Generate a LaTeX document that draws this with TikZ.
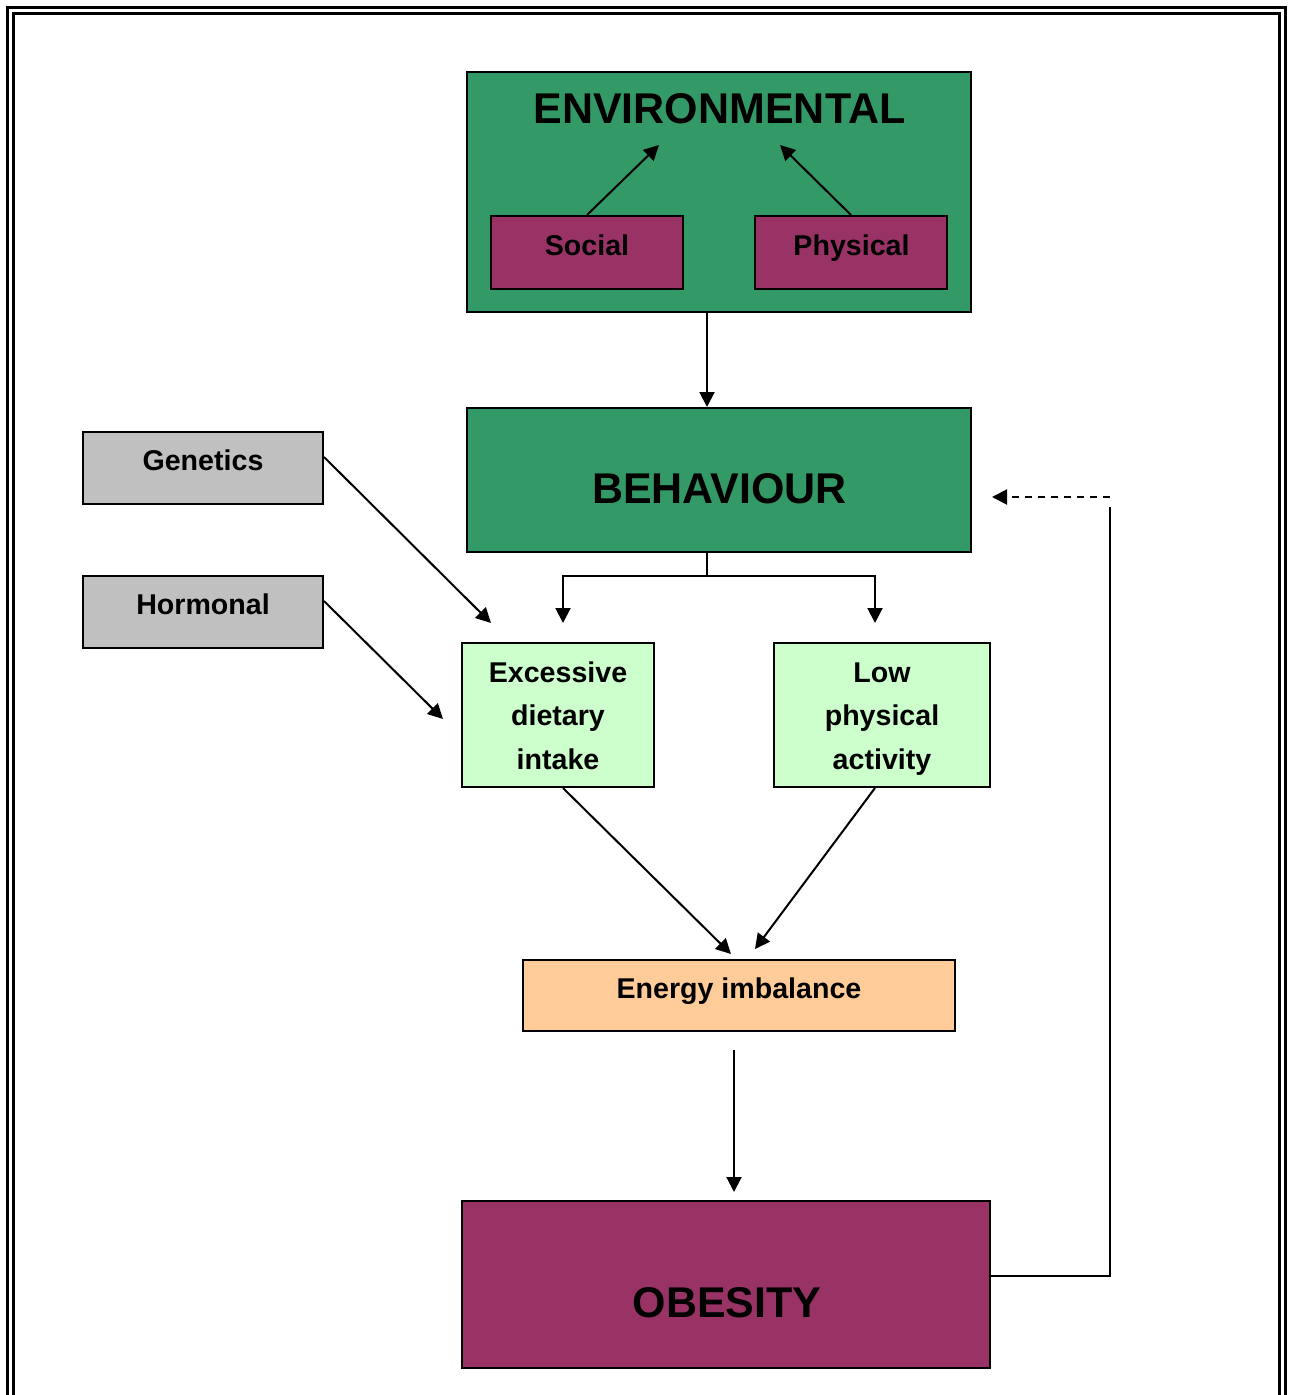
\documentclass[tikz,border=0pt]{standalone}
\usepackage{fontspec}
\setmainfont{Liberation Sans}
\usetikzlibrary{arrows.meta}
\definecolor{envgreen}{HTML}{339966}
\definecolor{plum}{HTML}{993366}
\definecolor{silver}{HTML}{C0C0C0}
\definecolor{mint}{HTML}{CCFFCC}
\definecolor{peach}{HTML}{FFCC99}
\tikzset{
  box/.style={draw,line width=2pt,inner sep=0pt,fill=#1},
  big/.style={font=\fontsize{43}{43}\selectfont\bfseries,inner sep=0pt,anchor=base},
  small/.style={font=\fontsize{28.6}{43.5}\selectfont\bfseries,inner sep=0pt,anchor=base,align=center},
  arr/.style={line width=2pt,-{Triangle[length=15pt,width=15pt]}}
}
\begin{document}
\begin{tikzpicture}[x=1pt,y=-1pt]
      \useasboundingbox(0,0)rectangle(1293,1395);
      \draw[line width=3pt](7.5,1400)--(7.5,7.5)--(1285.5,7.5)--(1285.5,1400);
      \draw[line width=2.5pt](13.5,1400)--(13.5,13.5)--(1279.5,13.5)--(1279.5,1400);
      \foreach \n/\x/\y/\w/\h/\c in{env/719/192/504/240/envgreen,social/587/252.5/192/73/plum,
        phys/851/252.5/192/73/plum,behav/719/480/504/144/envgreen,gen/203/468/240/72/silver,
        horm/203/612/240/72/silver,diet/558/715/192/144/mint,lowact/882/715/216/144/mint,
        energy/739/995.5/432/71/peach,obes/726/1284.5/528/167/plum}{
        \node[box=\c,minimum width=\w pt,minimum height=\h pt](\n)at(\x,\y){};
      }
      \foreach \n/\x/\y/\s/\t in{envt/719.5/123/big/ENVIRONMENTAL,behavt/719.5/503/big/BEHAVIOUR,
        obest/727/1317/big/OBESITY,socialt/587/255/small/Social,physt/851.5/255/small/Physical,
        gent/203/470/small/Genetics,hormt/203/614/small/Hormonal,energyt/739/998/small/Energy imbalance,
        diett/558/769/small/{Excessive\\dietary\\intake},lowactt/882/769/small/{Low\\physical\\activity}}{
        \node[\s](\n)at(\x,\y){\t};
      }
      \coordinate(s1)at(659,145);
      \coordinate(p1)at(780,145);
      \coordinate(fk)at(707,576);
      \coordinate(dl)at(563,623);
      \coordinate(dr)at(875,623);
      \coordinate(g1)at(491,623);
      \coordinate(h1)at(443,719);
      \coordinate(e1)at(731,954);
      \coordinate(e2)at(755,949);
      \coordinate(fb)at(1110,507);
      \coordinate(fbt)at(1110,497);
      \draw[arr](social.north)--(s1);
      \draw[arr](phys.north)--(p1);
      \draw[arr]([xshift=-12pt]env.south)--([xshift=-12pt]behav.north);
      \draw[line width=2pt]([xshift=-12pt]behav.south)--(fk);
      \draw[arr](fk)-|(dl);
      \draw[arr](fk)-|(dr);
      \draw[arr]([yshift=11pt]gen.east)--(g1);
      \draw[arr]([yshift=11pt]horm.east)--(h1);
      \draw[arr]([xshift=5pt]diet.south)--(e1);
      \draw[arr]([xshift=-7pt]lowact.south)--(e2);
      \draw[arr]([xshift=-5pt,yshift=-18pt]energy.south)--([xshift=8pt,yshift=8pt]obes.north);
      \draw[line width=2pt]([yshift=8.5pt]obes.east)-|(fb);
      \draw[arr,dash pattern=on 7pt off 6pt](fbt)--([xshift=20pt,yshift=-17pt]behav.east);
    \end{tikzpicture}
\end{document}
